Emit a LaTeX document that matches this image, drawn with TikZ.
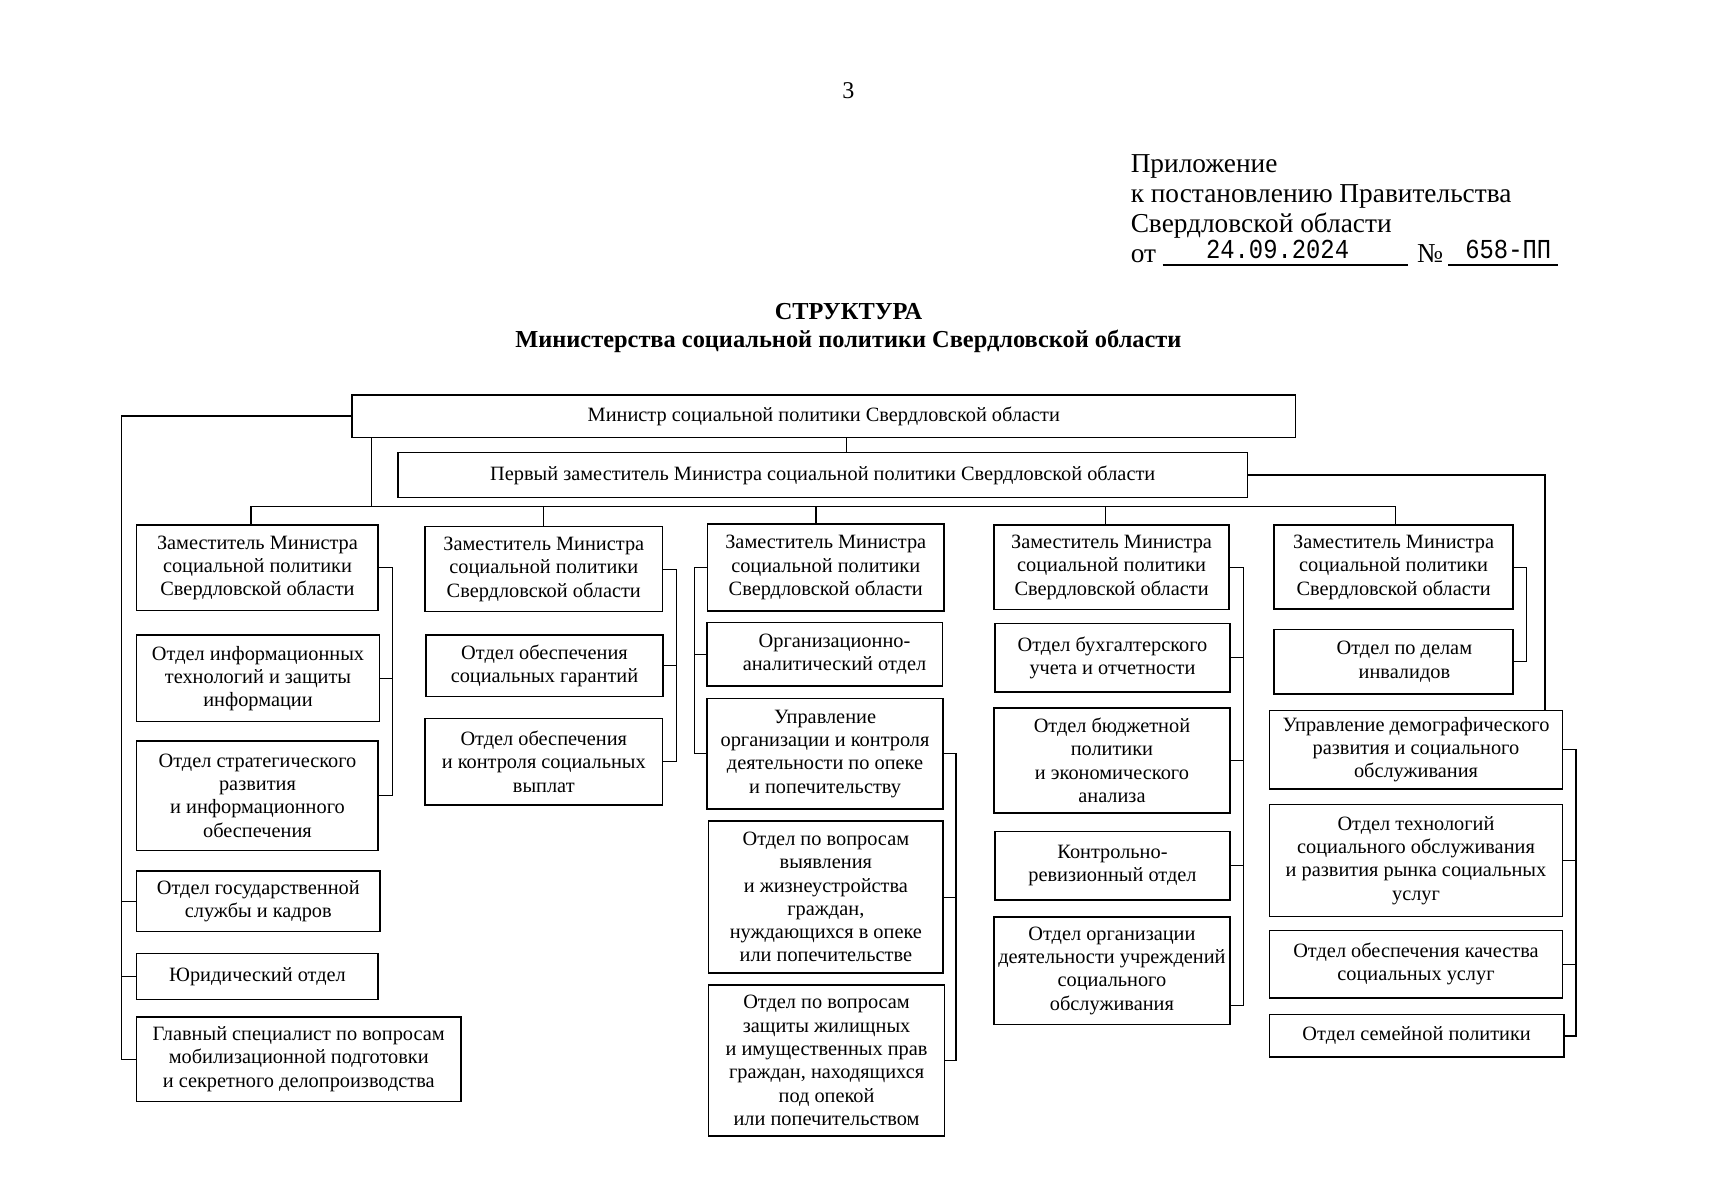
\documentclass[tikz,border=0pt]{standalone}
\usepackage{fontspec}
\setmainfont{Liberation Serif}
\newfontfamily\monof{Liberation Mono}
\usepackage{graphicx}
\newcommand\bx[7][]{\node[box,#1,minimum width={(#5-#3)*1pt},minimum height={(#6-#4)*1pt}] (#2) at ({(#3+#5)/2},{(#4+#6)/2}) {#7};}
\begin{document}
\begin{tikzpicture}[x=1pt,y=-1pt,
  box/.style={draw, line width=1.5pt, inner sep=0pt, align=center, font=\fontsize{18.6}{21.3}\selectfont},
  txt/.style={inner sep=0pt, align=center, font=\fontsize{18.6}{21.3}\selectfont},
  conn/.style={line width=1.1pt},
  hd/.style={inner sep=0pt, anchor=base west, font=\fontsize{25}{28}\selectfont},
  ttl/.style={inner sep=0pt, anchor=base, font=\fontsize{22.3}{26}\selectfont\bfseries}]
\useasboundingbox (0,0) rectangle (1564,1097.6);
\fill[white] (0,0) rectangle (1564,1097.6);

% header
\node[inner sep=0pt, anchor=base, font=\fontsize{22}{26}\selectfont] (pg) at (776,90) {3};
\node[hd] (h1) at (1034,158) {Приложение};
\node[hd] (h2) at (1034,185.5) {к постановлению Правительства};
\node[hd] (h3) at (1034,213) {Свердловской области};
\node[hd] (h4) at (1034,240) {от};
\node[hd] (h5) at (1296,240) {№};
\node[inner sep=0pt, anchor=base, font=\monof\fontsize{21.8}{24}\selectfont] (dt) at (1168.5,236.5) {\scalebox{1}[1.15]{24.09.2024}};
\node[inner sep=0pt, anchor=base, font=\monof\fontsize{21.8}{24}\selectfont] (nr) at (1379.5,236.5) {\scalebox{1}[1.15]{658-ПП}};
\draw[line width=1pt] (1063.4,242.4) -- (1288,242.4);
\draw[line width=1pt] (1324.6,242.4) -- (1425.2,242.4);
\node[ttl] (t1) at (776,292) {СТРУКТУРА};
\node[ttl] (t2) at (776,318) {Министерства социальной политики Свердловской области};

% boxes
\bx{mn}{322}{361}{1185}{400}{Министр социальной политики Свердловской области}
\bx{fd}{364}{414}{1141}{455}{Первый заместитель Министра социальной политики Свердловской области}

\bx{d1}{125}{480}{346}{558.5}{Заместитель Министра\\социальной политики\\Свердловской области}
\bx{oi}{125}{581}{347}{660}{Отдел информационных\\технологий и защиты\\информации}
\bx{os}{125}{677.5}{346}{778}{Отдел стратегического\\развития\\и информационного\\обеспечения}
\bx{gs}{125}{796.5}{347.5}{852}{Отдел государственной\\службы и кадров}
\bx{ju}{125}{872}{346}{914}{Юридический отдел}
\bx{gl}{125}{930}{421.5}{1007.5}{Главный специалист по вопросам\\мобилизационной подготовки\\и секретного делопроизводства}

\bx{d2}{388.7}{481.7}{606}{559.4}{Заместитель Министра\\социальной политики\\Свердловской области}
\bx{sg}{389.5}{581}{606.5}{637}{Отдел обеспечения\\социальных гарантий}
\bx{sv}{388.7}{657}{606}{736.3}{Отдел обеспечения\\и контроля социальных\\выплат}

\bx{d3}{647}{479.5}{863.5}{558.8}{Заместитель Министра\\социальной политики\\Свердловской области}
\bx{oa}{646.5}{569.5}{862}{627.3}{}
\node[txt] (oat) at ([xshift=9pt]oa.center) {Организационно-\\аналитический отдел};
\bx{uo}{646.5}{638.7}{862.7}{740}{Управление\\организации и контроля\\деятельности по опеке\\и попечительству}
\bx{vy}{648}{751}{862.7}{890}{Отдел по вопросам\\выявления\\и жизнеустройства\\граждан,\\нуждающихся в опеке\\или попечительстве}
\bx{zj}{648}{901}{864}{1039}{Отдел по вопросам\\защиты жилищных\\и имущественных прав\\граждан, находящихся\\под опекой\\или попечительством}

\bx{d4}{909}{480}{1124.3}{557.5}{Заместитель Министра\\социальной политики\\Свердловской области}
\bx{bu}{910}{570.2}{1125}{633.1}{Отдел бухгалтерского\\учета и отчетности}
\bx{bj}{909}{647.3}{1125}{743.6}{Отдел бюджетной\\политики\\и экономического\\анализа}
\bx{kr}{910}{760.5}{1125}{823.1}{Контрольно-\\ревизионный отдел}
\bx{oo}{909}{838.5}{1125}{937}{Отдел организации\\деятельности учреждений\\социального\\обслуживания}

\bx{d5}{1165.2}{480.3}{1384}{557.2}{Заместитель Министра\\социальной политики\\Свердловской области}
\bx{inv}{1165}{575.8}{1384}{634.7}{}
\node[txt] (invt) at ([xshift=10pt]inv.center) {Отдел по делам\\инвалидов};
\bx{ud}{1161}{649.7}{1429.2}{721.5}{Управление демографического\\развития и социального\\обслуживания}
\bx{te}{1161}{735.7}{1429.2}{838.4}{Отдел технологий\\социального обслуживания\\и развития рынка социальных\\услуг}
\bx{ka}{1161}{851}{1429.2}{912.8}{Отдел обеспечения качества\\социальных услуг}
\bx{se}{1161}{928}{1430.4}{967}{Отдел семейной политики}

% connectors
\coordinate (b1) at (229.6,463);
\coordinate (b2) at (497,463);
\coordinate (b3) at (746.3,463);
\coordinate (b4) at (1011,463);
\coordinate (b5) at (1276.5,463);
\draw[conn] (b1) -- (b5);
\draw[conn] (b1) -- (b1 |- d1.north);
\draw[conn] (b2) -- (b2 |- d2.north);
\draw[conn] (b3) -- (b3 |- d3.north);
\draw[conn] (b4) -- (b4 |- d4.north);
\draw[conn] (b5) -- (b5 |- d5.north);
\coordinate (lv) at (340,463);
\draw[conn] (mn.south -| lv) -- (lv);
\coordinate (mc) at (774,0);
\draw[conn] (mn.south -| mc) -- (fd.north -| mc);

\coordinate (ol) at (111.3,0);
\draw[conn] (mn.west) -| (ol |- gl.west) -- (gl.west);
\draw[conn] (ol |- gs.west) -- (gs.west);
\draw[conn] (ol |- ju.west) -- (ju.west);

\coordinate (rl) at (1413,0);
\draw[conn] (fd.east) -| (rl |- ud.north);

\coordinate (k1) at (359.2,0);
\draw[conn] (d1.east) -| (k1 |- os.east) -- (os.east);
\draw[conn] (k1 |- oi.east) -- (oi.east);

\coordinate (k2) at (618.9,0);
\draw[conn] (d2.east) -| (k2 |- sv.east) -- (sv.east);
\draw[conn] (k2 |- sg.east) -- (sg.east);

\coordinate (k3) at (635,0);
\draw[conn] (d3.west) -| (k3 |- uo.west) -- (uo.west);
\draw[conn] (k3 |- oa.west) -- (oa.west);

\coordinate (k3r) at (874.4,0);
\draw[conn] (uo.east) -| (k3r |- zj.east) -- (zj.east);
\draw[conn] (k3r |- vy.east) -- (vy.east);

\coordinate (k4) at (1137.1,0);
\coordinate (oo4) at ([yshift=-32pt]oo.east);
\draw[conn] (d4.east) -| (k4 |- oo4) -- (oo4);
\draw[conn] (k4 |- bu.east) -- (bu.east);
\draw[conn] (k4 |- bj.east) -- (bj.east);
\draw[conn] (k4 |- kr.east) -- (kr.east);

\coordinate (k5) at (1396.3,0);
\draw[conn] (d5.east) -| (k5 |- inv.east) -- (inv.east);

\coordinate (k6) at (1441.4,0);
\draw[conn] (ud.east) -| (k6 |- se.east) -- (se.east);
\draw[conn] (k6 |- te.east) -- (te.east);
\draw[conn] (k6 |- ka.east) -- (ka.east);
\end{tikzpicture}
\end{document}
